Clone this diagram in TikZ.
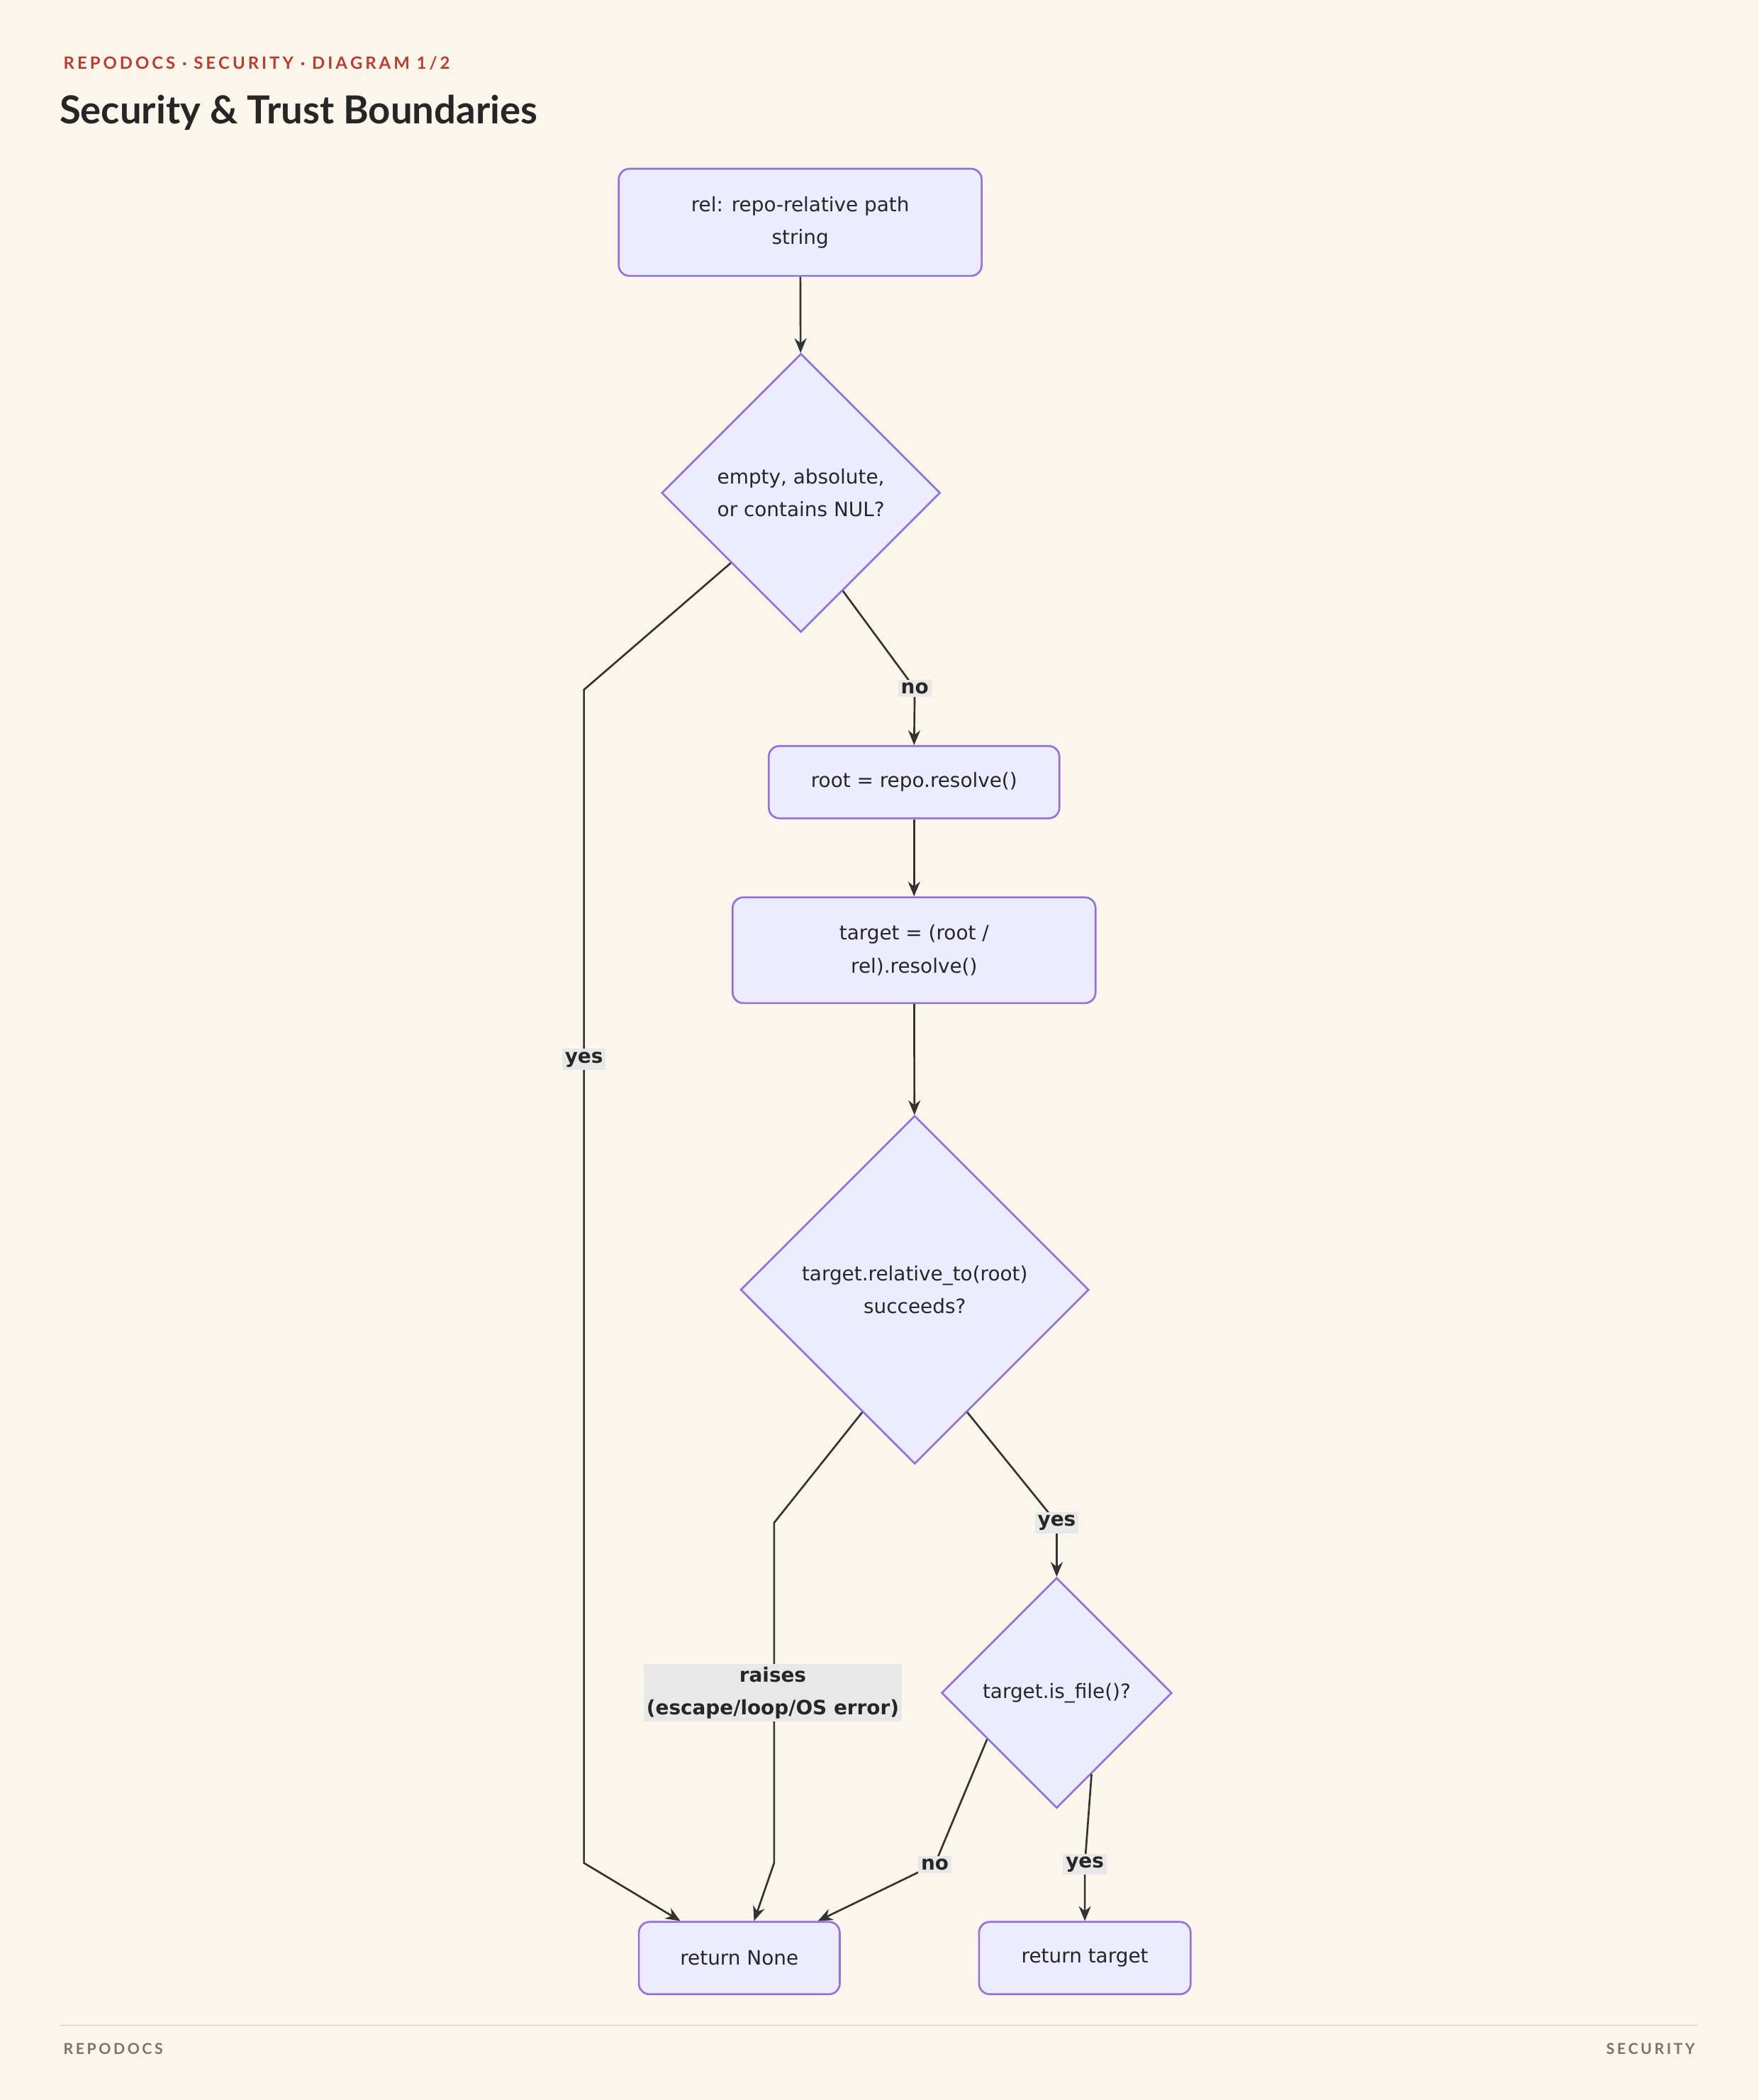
\documentclass[tikz,border=0pt]{standalone}
\usepackage{fontspec}
\setmainfont{DejaVu Sans}
\newfontfamily\titlefont{Lato}
\usetikzlibrary{shapes.geometric,arrows.meta,calc}
\definecolor{bg}{HTML}{FAF6EB}
\definecolor{nfill}{HTML}{ECECFF}
\definecolor{nstroke}{HTML}{9370DB}
\definecolor{edge}{HTML}{333333}
\definecolor{lbg}{HTML}{E8E8E8}
\definecolor{hdr}{HTML}{C0392B}
\definecolor{foot}{HTML}{7A7468}
\begin{document}
\begin{tikzpicture}[x=0.05cm,y=-0.05cm,
 box/.style={draw=nstroke,fill=nfill,line width=2pt,rounded corners=0.4cm,align=center,font=\fontsize{21}{35}\selectfont,text=black!85},
 dia/.style={draw=nstroke,fill=nfill,line width=2pt,diamond,aspect=1,inner sep=0pt,align=center,font=\fontsize{21}{35}\selectfont,text=black!85},
 e/.style={draw=edge,line width=2pt,-{Stealth[length=0.55cm,width=0.45cm]}},
 lab/.style={fill=lbg,inner sep=3pt,align=center,font=\bfseries\fontsize{21}{35}\selectfont,text=black!85}]
\useasboundingbox[fill=bg] (0,0) rectangle (1313,1568);
\node[anchor=west,text=hdr,font=\titlefont\bfseries\fontsize{18}{20}\selectfont] (h) at (45,47) {R\,E\,P\,O\,D\,O\,C\,S \,·\, S\,E\,C\,U\,R\,I\,T\,Y \,·\, D\,I\,A\,G\,R\,A\,M \,1\,/\,2};
\node[anchor=west,text=black!85,font=\titlefont\bfseries\fontsize{41}{44}\selectfont] (t) at (42,84) {Security \& Trust Boundaries};
\node[box,minimum width=13.55cm,minimum height=4cm] (n1) at (597.5,166) {rel: repo-relative path\\string};
\node[dia,minimum size=10.4cm] (d1) at (598,368) {empty, absolute,\\or contains NUL?};
\node[box,minimum width=10.85cm,minimum height=2.7cm] (n2) at (682.5,584) {root = repo.resolve()};
\node[box,minimum width=13.55cm,minimum height=3.95cm] (n3) at (682.5,709.5) {target = (root /\\rel).resolve()};
\node[dia,minimum size=13cm] (d2) at (683,963) {target.relative\_to(root)\\succeeds?};
\node[dia,minimum size=8.6cm] (d3) at (789,1264) {target.is\_file()?};
\node[box,minimum width=7.5cm,minimum height=2.7cm] (n4) at (552,1462) {return None};
\node[box,minimum width=7.9cm,minimum height=2.7cm] (n5) at (810,1462) {return target};
\draw[e] (n1) -- (d1);
\draw[e] (d1.south west) -- (436,515) -- (436,1391) -- ($(n4.north)+(-44,0)$);
\node[lab] (l1) at (436,791) {yes};
\draw[e] ($(d1.south)!0.3!(d1.east)$) -- (683,514) -- (n2.north);
\node[lab] (l2) at (683,514) {no};
\draw[e] (n2) -- (n3);
\draw[e] (n3) -- (d2);
\draw[e] ($(d2.south)!0.3!(d2.west)$) -- (578,1137) -- (578,1391) -- ($(n4.north)+(11,0)$);
\node[lab] (l3) at (577,1264) {raises\\(escape/loop/OS error)};
\draw[e] ($(d2.south)!0.3!(d2.east)$) -- (789,1137) -- (d3.north);
\node[lab] (l4) at (789,1137) {yes};
\draw[e] ($(d3.south)!0.6!(d3.west)$) -- (698,1392) -- ($(n4.north east)+(-17,0)$);
\node[lab] (l5) at (698,1392) {no};
\draw[e] ($(d3.south)!0.3!(d3.east)$) -- (810,1392) -- (n5.north);
\node[lab] (l6) at (810,1392) {yes};
\draw[foot!40,line width=1pt] (45,1512) -- (1268,1512);
\node[anchor=west,text=foot,font=\titlefont\bfseries\fontsize{16}{18}\selectfont] (f1) at (45,1530) {R\,E\,P\,O\,D\,O\,C\,S};
\node[anchor=east,text=foot,font=\titlefont\bfseries\fontsize{16}{18}\selectfont] (f2) at (1268,1530) {S\,E\,C\,U\,R\,I\,T\,Y};
\end{tikzpicture}
\end{document}
